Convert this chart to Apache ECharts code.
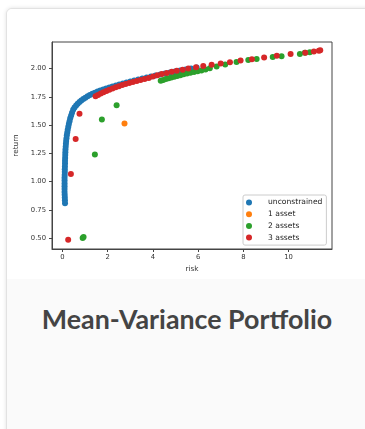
<!DOCTYPE html>
<html>
<head>
<meta charset="utf-8">
<script src="https://cdn.jsdelivr.net/npm/echarts@6/dist/echarts.min.js"></script>
<style>
  html, body { margin: 0; padding: 0; background: #fff; width: 365px; height: 429px; overflow: hidden; }
  .card {
    position: absolute; left: 6px; top: 8px; width: 380px; height: 440px;
    border: 1px solid #e2e2e2; border-radius: 6px; background: #fafafa;
    box-shadow: 0 0 4px rgba(0, 0, 0, 0.12); overflow: hidden;
  }
  .card .top { position: absolute; left: 0; top: 0; width: 100%; height: 270px; background: #fff; }
  #chart { position: absolute; left: 0; top: 0; width: 365px; height: 279px; }
  .title {
    position: absolute; left: 0; top: 303px; width: 374px; text-align: center;
    font-family: Lato, "Open Sans", sans-serif; font-weight: bold; font-size: 26.8px; color: #444;
  }
</style>
</head>
<body>
<div class="card"><div class="top"></div></div>
<div id="chart"></div>
<div class="title">Mean-Variance Portfolio</div>
<script>
// [risk, return] pairs
const unconstrained = [
  [0.12, 0.81], [0.115, 0.835], [0.11, 0.86], [0.105, 0.885], [0.10, 0.91], [0.10, 0.935],
  [0.10, 0.96], [0.10, 0.985], [0.10, 1.01], [0.10, 1.035], [0.105, 1.06], [0.11, 1.085],
  [0.11, 1.11], [0.115, 1.135], [0.12, 1.16], [0.12, 1.185], [0.125, 1.21], [0.13, 1.235],
  [0.135, 1.26], [0.14, 1.285], [0.15, 1.31], [0.16, 1.335], [0.17, 1.36], [0.185, 1.385],
  [0.20, 1.41], [0.22, 1.435], [0.24, 1.46], [0.265, 1.485], [0.29, 1.51], [0.32, 1.535],
  [0.35, 1.56], [0.39, 1.585], [0.43, 1.61], [0.48, 1.635], [0.54, 1.655], [0.61, 1.673],
  [0.68, 1.689], [0.76, 1.704], [0.84, 1.718], [0.93, 1.731], [1.02, 1.743], [1.12, 1.755],
  [1.22, 1.766], [1.33, 1.777], [1.44, 1.787], [1.56, 1.797], [1.68, 1.806], [1.81, 1.815],
  [1.94, 1.824], [2.08, 1.833], [2.22, 1.842], [2.37, 1.851], [2.52, 1.86], [2.68, 1.868],
  [2.84, 1.877], [3.01, 1.886], [3.18, 1.895], [3.36, 1.903], [3.54, 1.912], [3.73, 1.921],
  [3.92, 1.93], [4.12, 1.939], [4.33, 1.948], [4.54, 1.956], [4.76, 1.965], [4.98, 1.974],
  [5.21, 1.983], [5.45, 1.992], [5.69, 2.001], [5.94, 2.01]
];
const oneAsset = [[2.75, 1.515]];
const twoAssets = [
  [0.90, 0.502], [0.94, 0.51], [1.44, 1.24], [1.75, 1.55], [2.40, 1.676],
  [4.35, 1.893], [4.46, 1.9], [4.58, 1.907], [4.70, 1.914], [4.82, 1.921], [4.95, 1.928],
  [5.08, 1.935], [5.22, 1.942], [5.36, 1.949], [5.51, 1.956], [5.66, 1.963], [5.82, 1.97],
  [5.98, 1.977], [6.15, 1.984], [6.33, 1.992], [6.52, 2.002], [6.82, 2.018], [7.2, 2.037],
  [7.7, 2.058], [8.22, 2.075], [8.59, 2.085], [9.3, 2.102], [9.69, 2.11], [10.5, 2.13],
  [10.72, 2.14], [10.94, 2.145]
];
const threeAssets = [
  [0.26, 0.487], [0.38, 1.067], [0.59, 1.378], [0.76, 1.60],
  [1.47, 1.755], [1.58, 1.767], [1.70, 1.779], [1.82, 1.791], [1.95, 1.802], [2.08, 1.813],
  [2.22, 1.824], [2.36, 1.834], [2.50, 1.844], [2.65, 1.854], [2.80, 1.863], [2.96, 1.872],
  [3.12, 1.881], [3.29, 1.89], [3.46, 1.899], [3.64, 1.908], [3.82, 1.917], [4.01, 1.93],
  [4.20, 1.94], [4.40, 1.952], [4.62, 1.962], [4.84, 1.972], [5.06, 1.981], [5.32, 1.99],
  [5.57, 2.0], [5.91, 2.012], [6.23, 2.022], [6.60, 2.034], [7.0, 2.045], [7.41, 2.056],
  [7.88, 2.071], [8.38, 2.082], [8.92, 2.098], [9.48, 2.113], [10.09, 2.128], [10.74, 2.14],
  [11.12, 2.151], [11.34, 2.157], [11.40, 2.161]
];
const seriesNames = ['unconstrained', '1 asset', '2 assets', '3 assets'];
const seriesColors = ['#1f77b4', '#ff7f0e', '#2ca02c', '#d62728'];
const xTicks = [0, 2, 4, 6, 8, 10];
const yTicks = [0.5, 0.75, 1.0, 1.25, 1.5, 1.75, 2.0];

const chart = echarts.init(document.getElementById('chart'), null, { renderer: 'canvas' });

const tickFont = { fontFamily: 'DejaVu Sans', fontSize: 6.8, color: '#333' };
const axisColor = '#444';

const option = {
  animation: false,
  grid: {
    left: 52, top: 42, width: 280, height: 207,
    show: true, borderColor: axisColor, borderWidth: 1, backgroundColor: 'transparent'
  },
  legend: {
    orient: 'vertical',
    left: 243, top: 195,
    padding: [3, 4, 3, 3],
    itemWidth: 16, itemHeight: 6, itemGap: 2.7,
    icon: 'circle',
    borderColor: '#ccc', borderWidth: 1, borderRadius: 2,
    backgroundColor: 'rgba(255,255,255,0.85)',
    textStyle: { fontFamily: 'DejaVu Sans', fontSize: 7.6, color: '#222', lineHeight: 9, padding: [0, 0, 0, 6] },
    data: seriesNames
  },
  xAxis: {
    type: 'value', min: -0.455, max: 11.92,
    name: 'risk', nameLocation: 'middle', nameGap: 15,
    nameTextStyle: { fontFamily: 'DejaVu Sans', fontSize: 7.3, color: '#333' },
    splitLine: { show: false },
    axisLine: { show: true, onZero: false, lineStyle: { color: axisColor, width: 1 } },
    axisTick: { show: true, length: 3, customValues: xTicks, lineStyle: { color: axisColor } },
    axisLabel: Object.assign({ margin: 5, customValues: xTicks, formatter: (v) => String(v) }, tickFont)
  },
  yAxis: {
    type: 'value', min: 0.405, max: 2.235,
    name: 'return', nameLocation: 'middle', nameGap: 30,
    nameTextStyle: { fontFamily: 'DejaVu Sans', fontSize: 7.3, color: '#333' },
    splitLine: { show: false },
    axisLine: { show: true, onZero: false, lineStyle: { color: axisColor, width: 1 } },
    axisTick: { show: true, length: 3, customValues: yTicks, lineStyle: { color: axisColor } },
    axisLabel: Object.assign({ margin: 6, customValues: yTicks, formatter: (v) => v.toFixed(2) }, tickFont)
  },
  series: [unconstrained, oneAsset, twoAssets, threeAssets].map((d, i) => ({
    type: 'scatter',
    name: seriesNames[i],
    data: d,
    symbolSize: 6,
    itemStyle: { color: seriesColors[i], opacity: 1 },
    emphasis: { disabled: true }
  }))
};

chart.setOption(option);
</script>
</body>
</html>
